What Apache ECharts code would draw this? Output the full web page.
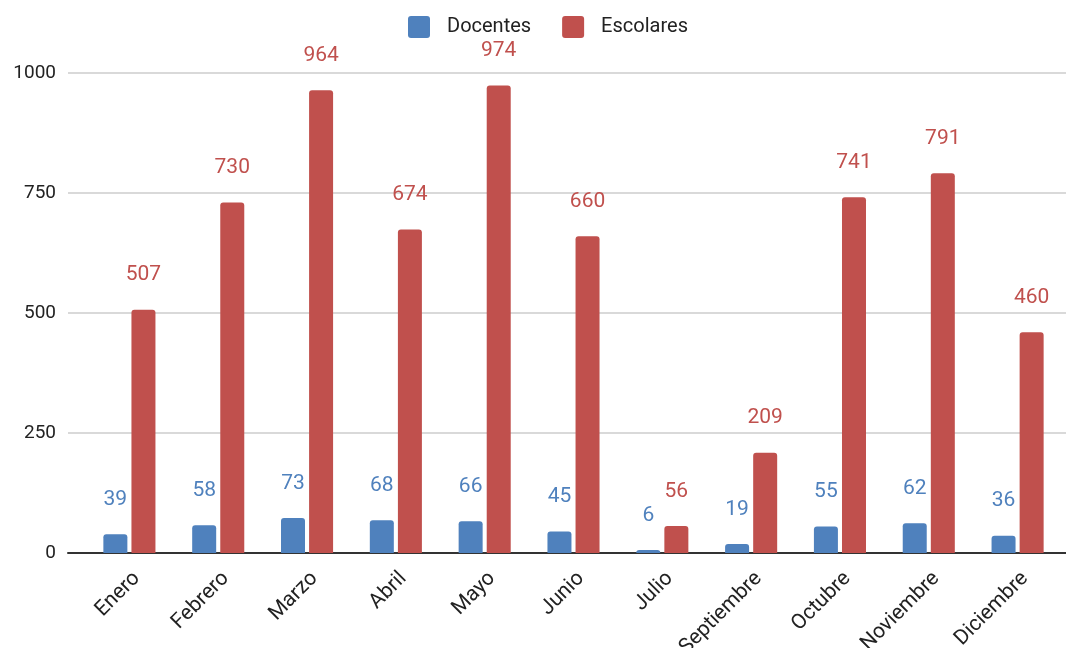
<!DOCTYPE html>
<html>
<head>
<meta charset="utf-8">
<script src="https://cdn.jsdelivr.net/npm/echarts@6/dist/echarts.min.js"></script>
<style>html,body{margin:0;padding:0;background:#fff;}#c{width:1066px;height:648px;}</style>
</head>
<body>
<div id="c"></div>
<script>
const categories = ['Enero','Febrero','Marzo','Abril','Mayo','Junio','Julio','Septiembre','Octubre','Noviembre','Diciembre'];
const docentes = [39,58,73,68,66,45,6,19,55,62,36];
const escolares = [507,730,964,674,974,660,56,209,741,791,460];
const seriesNames = ['Docentes','Escolares'];
const yTicks = [0,250,500,750,1000];

const FONT = 'Roboto';
const chart = echarts.init(document.getElementById('c'));
chart.setOption({
  animation: false,
  textStyle: {fontFamily: FONT},
  legend: {
    top: 11, left: 403,
    itemWidth: 22, itemHeight: 22, itemGap: 31,
    icon: 'path://M3,0 L19,0 Q22,0 22,3 L22,19 Q22,22 19,22 L3,22 Q0,22 0,19 L0,3 Q0,0 3,0 Z',
    textStyle: {fontSize: 20, color: '#222', fontFamily: FONT, padding: [0,0,0,12]},
    data: seriesNames
  },
  grid: [
    {left: 68, right: 0, top: 73, bottom: 95, containLabel: false, outerBoundsMode: 'none'},
    {left: 85, right: 4, top: 73, bottom: 95, containLabel: false, outerBoundsMode: 'none'}
  ],
  xAxis: [
    {type: 'category', gridIndex: 0, data: categories,
     axisLine: {show: true, lineStyle: {color: '#333', width: 2}},
     axisTick: {show: false}, axisLabel: {show: false}, splitLine: {show: false}},
    {type: 'category', gridIndex: 1, data: categories,
     axisLine: {show: false}, axisTick: {show: false},
     axisLabel: {rotate: 45, fontSize: 21, color: '#222', margin: 15, verticalAlign: 'top', fontFamily: FONT, interval: 0}}
  ],
  yAxis: [
    {type: 'value', gridIndex: 0, min: yTicks[0], max: yTicks[yTicks.length-1], interval: 250,
     axisLine: {show: false}, axisTick: {show: false},
     axisLabel: {fontSize: 19, color: '#222', margin: 12, fontFamily: FONT, formatter: v => String(v)},
     splitLine: {lineStyle: {color: '#cccccc', width: 1.5}}},
    {type: 'value', gridIndex: 1, min: yTicks[0], max: yTicks[yTicks.length-1], interval: 250, show: false}
  ],
  series: [
    {name: seriesNames[0], type: 'bar', xAxisIndex: 1, yAxisIndex: 1, data: docentes,
     barWidth: 24, barGap: '17%',
     itemStyle: {color: '#4f81bd', borderRadius: [3,3,0,0]},
     label: {show: true, position: 'top', distance: 24, fontSize: 21, color: '#4f81bd', fontFamily: FONT}},
    {name: seriesNames[1], type: 'bar', xAxisIndex: 1, yAxisIndex: 1, data: escolares,
     barWidth: 24, barGap: '17%',
     itemStyle: {color: '#c0504d', borderRadius: [3,3,0,0]},
     label: {show: true, position: 'top', distance: 24, fontSize: 21, color: '#c0504d', fontFamily: FONT}}
  ]
});
</script>
</body>
</html>
